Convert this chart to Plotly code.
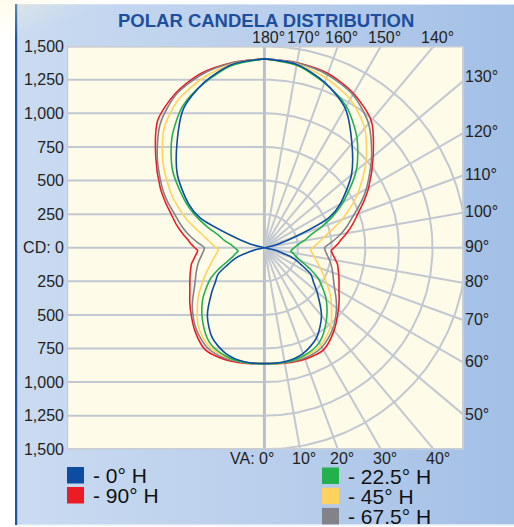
import base64
import numpy as np
import plotly.graph_objects as go

W, H = 514, 527

# ---------------- data (candela vs vertical angle) ----------------
VA = [0, 10, 20, 30, 40, 50, 55, 60, 65, 70, 75, 77.5, 80, 82.5, 85, 87.5, 90,
      92.5, 95, 100, 105, 110, 115, 120, 130, 140, 150, 160, 170, 180]

cd_h0 = [862, 862, 838, 775, 660, 510, 445, 400, 305, 230, 120, 55, 0, 0, 0, 0, 0,
         0, 0, 0, 110, 260, 530, 650, 845, 1012, 1200, 1310, 1385, 1405]
cd_h22_5 = [862, 866, 855, 815, 715, 600, 530, 465, 375, 290, 240, 225, 210, 197, 202, 211, 221,
            233, 247, 300, 350, 450, 565, 676, 891, 1070, 1216, 1305, 1378, 1405]
cd_h45 = [862, 866, 862, 838, 765, 650, 595, 535, 487, 442, 405, 390, 375, 362, 351, 343, 360,
          378, 399, 449, 520, 615, 705, 800, 985, 1160, 1275, 1342, 1388, 1405]
cd_h67_5 = [862, 868, 874, 855, 790, 700, 650, 602, 567, 540, 515, 502, 488, 474, 462, 452, 447,
            472, 505, 575, 640, 705, 790, 875, 1040, 1205, 1315, 1370, 1395, 1405]
cd_h90 = [862, 872, 882, 878, 805, 718, 678, 640, 612, 588, 566, 556, 538, 522, 507, 497, 518,
          542, 563, 620, 680, 740, 815, 895, 1055, 1235, 1325, 1380, 1398, 1405]

legend_names = ["- 0° H", "- 90° H", "- 22.5° H", "- 45° H", "- 67.5° H"]
series_values = [cd_h0, cd_h90, cd_h22_5, cd_h45, cd_h67_5]
series_colors = ["#0c4da2", "#ec1c24", "#22b14c", "#ffd35c", "#818389"]

CD_TICKS = [1500, 1250, 1000, 750, 500, 250, 0, -250, -500, -750, -1000, -1250, -1500]
CD_TEXT = ["1,500", "1,250", "1,000", "750", "500", "250", "CD: 0",
           "250", "500", "750", "1,000", "1,250", "1,500"]
RINGS = [250, 500, 750, 1000, 1250, 1500]
SPOKES = list(range(0, 181, 10))
TOP_VA = [180, 170, 160, 150, 140]
RIGHT_VA = [130, 120, 110, 100, 90, 80, 70, 60, 50]
BOTTOM_VA = [0, 10, 20, 30, 40]

# ---------------- geometry ----------------
X_RANGE = [-1468, 1484]
Y_RANGE = [-1500, 1500]
PX_L, PX_R = 67, 464
SCALE = (PX_R - PX_L) / (X_RANGE[1] - X_RANGE[0])
PX_T = 46
PX_B = PX_T + SCALE * (Y_RANGE[1] - Y_RANGE[0])

FONT = "Liberation Sans, Arial, Helvetica, sans-serif"
GRID = "#c2c8d2"


def px(x):
    return x / W


def py(y):
    return 1 - y / H


# ---------------- background (svg gradient) ----------------
svg = f"""<svg xmlns='http://www.w3.org/2000/svg' width='{W}' height='{H}'>
<defs>
<linearGradient id='g' x1='0' y1='0' x2='1' y2='0'>
<stop offset='0' stop-color='#cadbf1'/><stop offset='0.5' stop-color='#bacfec'/><stop offset='1' stop-color='#a2bfe6'/>
</linearGradient>
<radialGradient id='y' cx='0.02' cy='0' r='1'>
<stop offset='0' stop-color='#fff6cf' stop-opacity='1'/>
<stop offset='0.55' stop-color='#fff6cf' stop-opacity='0.55'/>
<stop offset='1' stop-color='#fff6cf' stop-opacity='0'/>
</radialGradient>
</defs>
<rect width='{W}' height='{H}' fill='#ffffff'/>
<rect x='15' y='4' width='{W-15}' height='{H-6}' fill='url(#g)'/>
<rect x='15' y='4' width='{W-15}' height='1' fill='#d6e2f2'/>
<rect x='15' y='{H-3}' width='{W-15}' height='1.5' fill='#dfe8f5'/>
<rect x='15' y='4' width='2.2' height='{H-6}' fill='#1f55a8'/>
<ellipse cx='0' cy='0' rx='140' ry='55' fill='url(#y)'/>
</svg>"""
bg_src = "data:image/svg+xml;base64," + base64.b64encode(svg.encode()).decode()

fig = go.Figure()

# ---------------- polar grid (right half) ----------------
gx, gy = [], []
arc = np.radians(np.arange(0, 180.5, 1.0))
for r in RINGS:
    gx += list(r * np.sin(arc)) + [None]
    gy += list(-r * np.cos(arc)) + [None]
for a in SPOKES[1:-1]:
    t = np.radians(a)
    gx += [0, 5000 * np.sin(t), None]
    gy += [0, -5000 * np.cos(t), None]
fig.add_trace(go.Scatter(x=gx, y=gy, mode="lines", line=dict(color=GRID, width=2),
                         hoverinfo="skip", showlegend=False))

# ---------------- candela curves ----------------
va_r = np.radians(np.array(VA, dtype=float))
draw_order = [1, 4, 3, 2, 0]
for i in draw_order:
    r = np.array(series_values[i], dtype=float)
    xr = r * np.sin(va_r)
    yr = -r * np.cos(va_r)
    x = np.concatenate([xr, -xr[::-1]])
    y = np.concatenate([yr, yr[::-1]])
    fig.add_trace(go.Scatter(x=x, y=y, mode="lines", name=legend_names[i],
                             line=dict(color=series_colors[i], width=1.6,
                                       shape="spline", smoothing=0.8),
                             showlegend=False))

# ---------------- shapes ----------------
shapes = []
shapes.append(dict(type="rect", xref="x", yref="y", x0=X_RANGE[0], x1=X_RANGE[1],
                   y0=Y_RANGE[0], y1=Y_RANGE[1], fillcolor="#fffbe9",
                   line=dict(width=0), layer="below"))
for v in CD_TICKS:
    shapes.append(dict(type="line", xref="x", yref="y", x0=X_RANGE[0], x1=0, y0=v, y1=v,
                       line=dict(color=GRID, width=2), layer="below"))
shapes.append(dict(type="line", xref="x", yref="y", x0=0, x1=0, y0=Y_RANGE[0], y1=Y_RANGE[1],
                   line=dict(color="#bac0cb", width=3), layer="below"))
# frame
shapes.append(dict(type="rect", xref="x", yref="y", x0=X_RANGE[0], x1=X_RANGE[1],
                   y0=Y_RANGE[0], y1=Y_RANGE[1], fillcolor="rgba(0,0,0,0)",
                   line=dict(color="#c8ccd3", width=2.5), layer="above"))
shapes.append(dict(type="line", xref="x", yref="y", x0=X_RANGE[1], x1=X_RANGE[1],
                   y0=Y_RANGE[0], y1=Y_RANGE[1], line=dict(color="#c8ccd3", width=4),
                   layer="above"))

# legend swatches
left_items = [0, 1]
right_items = [2, 3, 4]
SW = 17
annotations = []
leg_font = dict(size=21, color="#111111", family=FONT)
for k, i in enumerate(left_items):
    y0 = 467 + k * 20
    shapes.append(dict(type="rect", xref="paper", yref="paper", x0=px(67), x1=px(67 + SW),
                       y0=py(y0 + 16.5), y1=py(y0), fillcolor=series_colors[i],
                       line=dict(width=0), layer="above"))
    annotations.append(dict(x=px(91), y=py(y0 + 8.5), xref="paper", yref="paper",
                            text=legend_names[i], showarrow=False, xanchor="left",
                            yanchor="middle", font=leg_font))
for k, i in enumerate(right_items):
    y0 = 467.5 + k * 20.2
    shapes.append(dict(type="rect", xref="paper", yref="paper", x0=px(322), x1=px(322 + SW),
                       y0=py(y0 + 16.5), y1=py(y0), fillcolor=series_colors[i],
                       line=dict(width=0), layer="above"))
    annotations.append(dict(x=px(346), y=py(y0 + 8.5), xref="paper", yref="paper",
                            text=legend_names[i], showarrow=False, xanchor="left",
                            yanchor="middle", font=leg_font))

# title
annotations.append(dict(x=px(266), y=py(20), xref="paper", yref="paper",
                        text="<b>POLAR CANDELA DISTRIBUTION</b>", showarrow=False,
                        xanchor="center", yanchor="middle",
                        font=dict(size=18.5, color="#1d4f9e", family=FONT)))

lab_font = dict(size=16, color="#231f20", family=FONT)
for a in TOP_VA:
    x = Y_RANGE[1] * np.tan(np.radians(180 - a))
    annotations.append(dict(x=x, y=Y_RANGE[1], xref="x", yref="y", text=f"{a}°",
                            showarrow=False, xanchor="center", yanchor="bottom",
                            xshift=4, yshift=-2, font=lab_font))
for a in RIGHT_VA:
    t = np.radians(a)
    y = -X_RANGE[1] * np.cos(t) / np.sin(t)
    annotations.append(dict(x=X_RANGE[1], y=y, xref="x", yref="y", text=f"{a}°",
                            showarrow=False, xanchor="left", yanchor="middle",
                            xshift=-1, yshift=(4 if a == 130 else 1), font=lab_font))
for a in BOTTOM_VA:
    x = -Y_RANGE[0] * np.tan(np.radians(a))
    if a == 0:
        annotations.append(dict(x=x, y=Y_RANGE[0], xref="x", yref="y", text="VA: 0°",
                                showarrow=False, xanchor="right", yanchor="top",
                                xshift=12, yshift=1, font=lab_font))
    else:
        annotations.append(dict(x=x, y=Y_RANGE[0], xref="x", yref="y", text=f"{a}°",
                                showarrow=False, xanchor="center", yanchor="top",
                                xshift=4, yshift=1, font=lab_font))

fig.update_layout(
    width=W, height=H,
    margin=dict(l=0, r=0, t=0, b=0, pad=0, autoexpand=False),
    paper_bgcolor="#ffffff",
    plot_bgcolor="rgba(0,0,0,0)",
    showlegend=False,
    shapes=shapes,
    annotations=annotations,
    images=[dict(source=bg_src, xref="paper", yref="paper", x=0, y=1, sizex=1, sizey=1,
                 xanchor="left", yanchor="top", sizing="stretch", layer="below")],
    xaxis=dict(domain=[px(PX_L), px(PX_R)], range=X_RANGE, showgrid=False, zeroline=False,
               showticklabels=False, showline=False, fixedrange=True, automargin=False),
    yaxis=dict(domain=[py(PX_B), py(PX_T)], range=[Y_RANGE[0] - 1, Y_RANGE[1] + 1],
               showgrid=False, zeroline=False, showline=False, ticks="",
               tickmode="array", tickvals=CD_TICKS, ticktext=CD_TEXT,
               tickfont=dict(size=16, color="#231f20", family=FONT),
               ticklabelstandoff=2, fixedrange=True, automargin=False),
    font=dict(family=FONT),
)

fig.write_html(
    "out.html",
    config={"displayModeBar": False},
    post_script="document.body.style.margin='0px';document.body.style.overflow='hidden';",
)
